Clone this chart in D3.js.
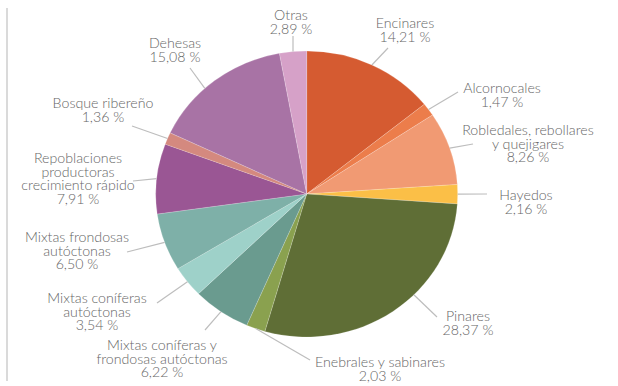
<!DOCTYPE html>
<html>
<head>
<meta charset="utf-8">
<script src="https://cdn.jsdelivr.net/npm/d3@7"></script>
<style>
  body { margin: 0; background: #fff; }
  svg { display: block; }
</style>
</head>
<body>
<div id="pie"></div>
<script>
// data
var categories = [
    ["Encinares"],
    ["Alcornocales"],
    ["Robledales, rebollares", "y quejigares"],
    ["Hayedos"],
    ["Pinares"],
    ["Enebrales y sabinares"],
    ["Mixtas coníferas y", "frondosas autóctonas"],
    ["Mixtas coníferas", "autóctonas"],
    ["Mixtas frondosas", "autóctonas"],
    ["Repoblaciones", "productoras", "crecimiento rápido"],
    ["Bosque ribereño"],
    ["Dehesas"],
    ["Otras"]
];
var values = [14.21, 1.47, 8.26, 2.16, 28.37, 2.03, 6.22, 3.54, 6.50, 7.91, 1.36, 15.08, 2.89];
var colors = ["#d55b31", "#ec7d4b", "#f19a73", "#fbbf47", "#5f6e36", "#8aa14f", "#6a9b8f",
    "#9ed1c9", "#7eb0a8", "#9a5694", "#d4897f", "#a873a5", "#d6a1c8"];

// label layout: first text line centre, leader end, position of leader start inside the slice
var labelPos = [
    [405, 28, 388, 48, 0.5],
    [502, 93, 458, 92, 0.5],
    [528, 135, 473, 144, 0.5],
    [526, 200, 487, 194, 0.5],
    [468, 321, 437, 317, 0.4],
    [380, 367, 310, 360, 0.5],
    [162, 350, 205, 330, 0.5],
    [97, 303, 157, 303, 0.5],
    [77, 242, 127, 252, 0.5],
    [78, 163, 133, 181, 0.5],
    [103, 108, 132, 126, 0.5],
    [175, 48, 190, 68, 0.41],
    [291, 20, 293, 36, 0.5]
];

var width = 618, height = 386;
var cx = 306.7, cy = 194, rx = 151, ry = 143;

var svg = d3.select("#pie")
    .append("svg")
    .attr("width", width)
    .attr("height", height);

// left rule
svg.append("line")
    .attr("x1", 7).attr("x2", 7)
    .attr("y1", 8).attr("y2", 381)
    .attr("stroke", "#b5b5b5")
    .attr("stroke-width", 1);

var pie = d3.pie().sort(null).value(function (d) { return d; });
var arcs = pie(values);

var arc = d3.arc().innerRadius(0).outerRadius(ry);

var g = svg.append("g")
    .attr("transform", "translate(" + cx + "," + cy + ") scale(" + (rx / ry) + ",1)");

g.selectAll("path")
    .data(arcs)
    .enter()
    .append("path")
    .attr("d", arc)
    .attr("fill", function (d, i) { return colors[i]; })
    .attr("stroke", "#ffffff")
    .attr("stroke-opacity", 0.35)
    .attr("stroke-width", 0.5)
    .attr("vector-effect", "non-scaling-stroke");

function edgePoint(d, t) {
    var a = d.startAngle + t * (d.endAngle - d.startAngle);
    return [cx + rx * Math.sin(a), cy - ry * Math.cos(a)];
}

// leader lines
svg.append("g")
    .selectAll("line")
    .data(arcs)
    .enter()
    .append("line")
    .attr("x1", function (d, i) { return edgePoint(d, labelPos[i][4])[0]; })
    .attr("y1", function (d, i) { return edgePoint(d, labelPos[i][4])[1]; })
    .attr("x2", function (d, i) { return labelPos[i][2]; })
    .attr("y2", function (d, i) { return labelPos[i][3]; })
    .attr("stroke", "#bdbdbd")
    .attr("stroke-width", 1.2);

// labels
var labels = svg.append("g")
    .selectAll("text")
    .data(arcs)
    .enter()
    .append("text")
    .attr("text-anchor", "middle")
    .attr("font-family", "Lato, 'Open Sans', sans-serif")
    .attr("font-weight", 300)
    .attr("font-size", "14.2px")
    .attr("fill", "#666666")
    .attr("x", function (d, i) { return labelPos[i][0]; })
    .attr("y", function (d, i) { return labelPos[i][1]; });

labels.each(function (d, i) {
    var t = d3.select(this);
    var lines = categories[i].concat([values[i].toFixed(2).replace(".", ",") + " %"]);
    lines.forEach(function (s, k) {
        t.append("tspan")
            .attr("x", labelPos[i][0])
            .attr("dy", k === 0 ? 0 : 13.7)
            .text(s);
    });
});

// source, cut by the bottom edge
svg.append("text")
    .attr("x", 517)
    .attr("y", 396)
    .attr("font-family", "Lato, sans-serif")
    .attr("font-weight", 300)
    .attr("font-size", "14.2px")
    .attr("fill", "#666666")
    .text("Fuente: MAPA");
</script>
</body>
</html>
